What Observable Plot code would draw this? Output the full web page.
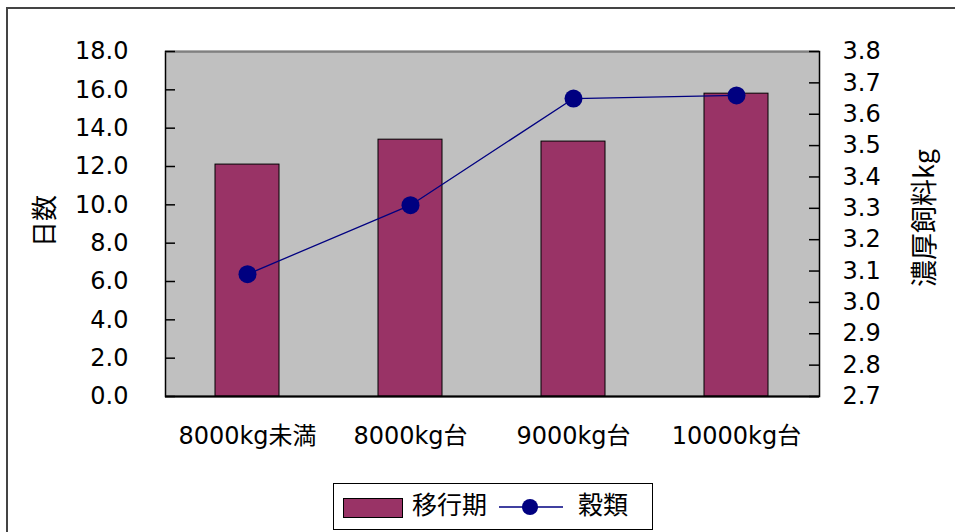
<!DOCTYPE html>
<html><head><meta charset="utf-8">
<script src="https://cdn.jsdelivr.net/npm/d3@7"></script>
<script src="https://cdn.jsdelivr.net/npm/@observablehq/plot@0.6"></script>
<style>
body{margin:0;background:#fff;}
#wrap{position:relative;width:955px;height:532px;overflow:hidden;font-family:"DejaVu Sans","Noto Sans CJK JP",sans-serif;}
#border{position:absolute;left:6px;top:7px;width:1000px;height:600px;border-left:2px solid #444;border-top:2px solid #444;}
#chart{position:absolute;left:0;top:0;}
#legend{position:absolute;left:333px;top:483px;}
</style></head><body>
<div id="wrap"><div id="border"></div><div id="chart"></div><div id="legend"></div></div>
<script>
const categories = ["8000kg未満", "8000kg台", "9000kg台", "10000kg台"];
const transitionDays = [12.1, 13.4, 13.3, 15.8];   // 移行期 (日数, left axis)
const grainKg = [3.09, 3.31, 3.65, 3.66];           // 穀類 (濃厚飼料kg, right axis)
const leftTicks = [0, 2, 4, 6, 8, 10, 12, 14, 16, 18];
const rightTicks = [2.7, 2.8, 2.9, 3.0, 3.1, 3.2, 3.3, 3.4, 3.5, 3.6, 3.7, 3.8];
const seriesNames = ["移行期", "穀類"];
const axisTitles = ["日数", "濃厚飼料kg"];

const leftMax = 18, rightMin = 2.7, rightMax = 3.8;
const toLeft = v => (v - rightMin) / (rightMax - rightMin) * leftMax;
const fromLeft = v => rightMin + v / leftMax * (rightMax - rightMin);

const data = categories.map((c, i) => ({cat: c, days: transitionDays[i], grain: grainKg[i], g: toLeft(grainKg[i])}));

const W = 955, H = 532, ml = 165, mr = 136, mt = 51, mb = 136;
const innerW = W - ml - mr;
const barColor = "#993366", lineColor = "#000080";

const chart = Plot.plot({
  width: W, height: H,
  marginLeft: ml, marginRight: mr, marginTop: mt, marginBottom: mb,
  style: {fontFamily: '"DejaVu Sans","Noto Sans CJK JP",sans-serif', fontSize: "24px", color: "#000", background: "transparent", overflow: "visible"},
  x: {domain: categories, paddingInner: 0.606, paddingOuter: 0.303, align: 0.5},
  y: {domain: [0, leftMax]},
  marks: [
    Plot.frame({fill: "#C0C0C0", stroke: "#000", strokeWidth: 1.5}),
    Plot.ruleY([leftMax], {stroke: "#808080", strokeWidth: 1.5}),
    Plot.barY(data, {x: "cat", y: "days", fill: barColor, stroke: "#000", strokeWidth: 1}),
    Plot.line(data, {x: "cat", y: "g", stroke: lineColor, strokeWidth: 1.3}),
    Plot.dot(data, {x: "cat", y: "g", r: 9, fill: lineColor, stroke: "none"}),
    Plot.ruleY(leftTicks, {insetRight: innerW - 10, stroke: "#000", strokeWidth: 1.5}),
    Plot.ruleY(rightTicks.map(toLeft), {insetLeft: innerW - 10, stroke: "#000", strokeWidth: 1.5}),
    Plot.ruleY([0], {stroke: "#000", strokeWidth: 2}),
    Plot.axisY({anchor: "left", ticks: leftTicks, tickSize: 0, tickPadding: 37, tickFormat: d => d.toFixed(1), label: null}),
    Plot.axisY({anchor: "right", ticks: rightTicks.map(toLeft), tickSize: 0, tickPadding: 23, tickFormat: d => fromLeft(d).toFixed(1), label: null}),
    Plot.axisX({tickSize: 0, tickPadding: 30, label: null}),
    Plot.text([axisTitles[0]], {text: d => d, frameAnchor: "left", textAnchor: "middle", dx: -120, dy: -3, rotate: -90, fontSize: 26, fontFamily: '"Noto Sans CJK JP",sans-serif'}),
    Plot.text([axisTitles[1]], {text: d => d, frameAnchor: "right", textAnchor: "middle", dx: 106, dy: -6, rotate: -90, fontSize: 27, fontFamily: '"Noto Sans CJK JP",sans-serif'})
  ]
});
document.getElementById("chart").appendChild(chart);

// legend
const lg = d3.select("#legend").append("svg").attr("width", 321).attr("height", 48)
  .style("font-family", '"Noto Sans CJK JP",sans-serif').style("font-size", "25px");
lg.append("rect").attr("x", 0.5).attr("y", 0.5).attr("width", 319).attr("height", 46).attr("fill", "#fff").attr("stroke", "#000");
lg.append("rect").attr("x", 10.5).attr("y", 15.5).attr("width", 59).attr("height", 19).attr("fill", barColor).attr("stroke", "#000");
lg.append("text").attr("x", 79).attr("y", 31).text(seriesNames[0]);
lg.append("line").attr("x1", 166).attr("x2", 230).attr("y1", 24).attr("y2", 24).attr("stroke", lineColor).attr("stroke-width", 1.5);
lg.append("circle").attr("cx", 197).attr("cy", 24).attr("r", 8).attr("fill", lineColor);
lg.append("text").attr("x", 245).attr("y", 31).text(seriesNames[1]);
</script>
</body></html>
